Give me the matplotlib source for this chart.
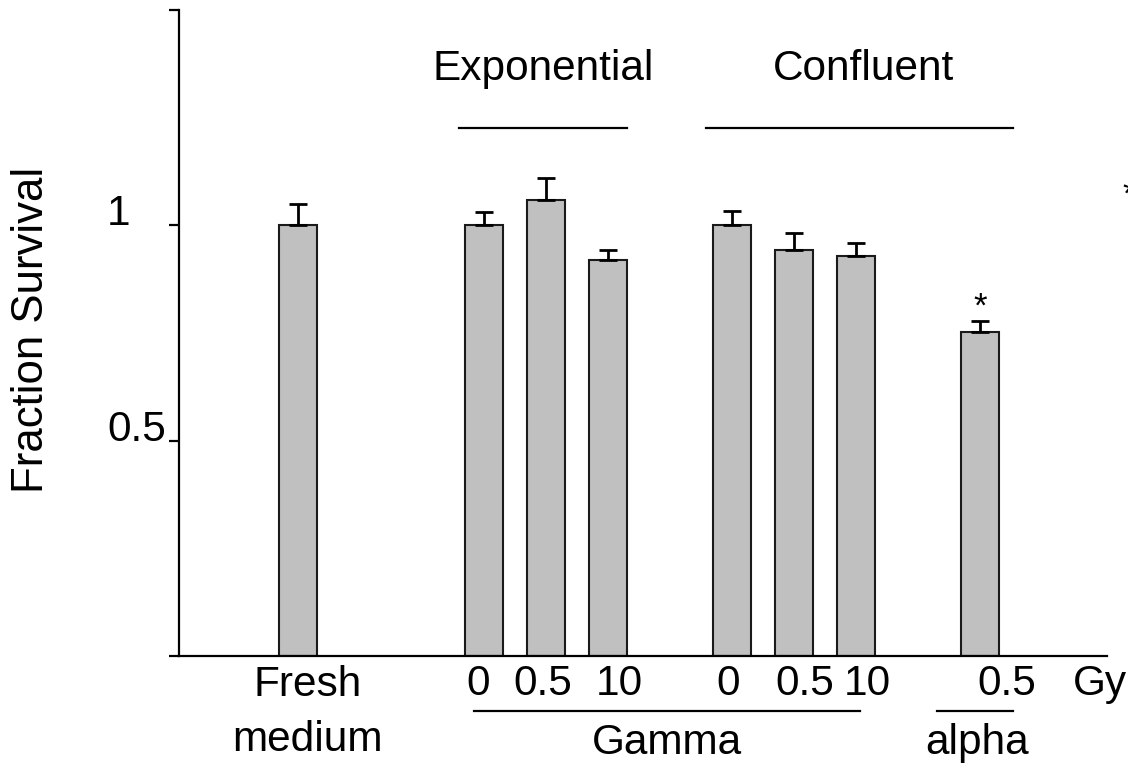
import matplotlib
matplotlib.use("Agg")
import matplotlib.pyplot as plt

plt.rcParams['font.family'] = ['Liberation Sans', 'DejaVu Sans']

# Data
positions = [-3, 0, 1, 2, 4, 5, 6, 8]
values = [1.00, 1.00, 1.058, 0.920, 1.00, 0.943, 0.929, 0.753]
errors = [0.049, 0.032, 0.052, 0.023, 0.033, 0.040, 0.029, 0.024]
dose_labels = ['0', '0.5', '10', '0', '0.5', '10', '0.5']
dose_label_x = [-0.1, 0.95, 2.19, 3.94, 5.18, 6.19, 8.44]
ytick_vals = [0, 0.5, 1, 1.5]
ytick_labels = ['', '0.5', '1', '']

FS = 30.5
fig = plt.figure(figsize=(11.28, 7.66), dpi=100)
ax = fig.add_axes([179/1128, 1-656/766, (1107-179)/1128, (656-10)/766])

ax.bar(positions, values, width=0.6, color='#c0c0c0', edgecolor='#1a1a1a',
       linewidth=1.5, zorder=2)
ax.errorbar(positions, values, yerr=[[0]*len(errors), errors], fmt='none',
            ecolor='black', elinewidth=2.0, capsize=6.8, capthick=2.0, zorder=3)

ax.set_xlim(-4.92, 10.05)
ax.set_ylim(0, 1.5)
for s in ['top', 'right']:
    ax.spines[s].set_visible(False)
for s in ['left', 'bottom']:
    ax.spines[s].set_linewidth(1.6)
ax.set_xticks([])
ax.set_yticks(ytick_vals)
ax.set_yticklabels(ytick_labels, fontsize=FS)
ax.tick_params(axis='y', length=7.2, width=1.6, pad=44.5)
for lab in ax.get_yticklabels():
    lab.set_horizontalalignment('left')
    lab.set_verticalalignment('baseline')

# significance stars
ax.text(positions[-1], values[-1] + errors[-1] + 0.034, '*', ha='center',
        va='center', fontsize=25)
ax.text(10.40, 1.07, '*', ha='center', va='center', fontsize=25, clip_on=False)

# group headers
line_kw = dict(color='black', lw=1.6, clip_on=False)
ax.plot([-0.4, 2.31], [1.225, 1.225], **line_kw)
ax.text(0.95, 1.363, 'Exponential', ha='center', va='center', fontsize=FS)
ax.plot([3.58, 8.53], [1.225, 1.225], **line_kw)
ax.text(6.12, 1.363, 'Confluent', ha='center', va='center', fontsize=FS)

# bottom labels
for x, t in zip(dose_label_x, dose_labels):
    ax.text(x, -0.065, t, ha='center', va='center', fontsize=FS, clip_on=False)
ax.text(9.94, -0.065, 'Gy', ha='center', va='center', fontsize=FS, clip_on=False)
ax.text(-2.84, -0.068, 'Fresh', ha='center', va='center', fontsize=FS, clip_on=False)
ax.text(-2.84, -0.194, 'medium', ha='center', va='center', fontsize=FS, clip_on=False)

ax.plot([-0.16, 6.06], [-0.127, -0.127], **line_kw)
ax.text(2.95, -0.201, 'Gamma', ha='center', va='center', fontsize=FS, clip_on=False)
ax.plot([7.31, 8.53], [-0.127, -0.127], **line_kw)
ax.text(7.95, -0.201, 'alpha', ha='center', va='center', fontsize=FS, clip_on=False)

fig.text(32/1128, 1-330/766, 'Fraction Survival', rotation=90, ha='center',
         va='center', fontsize=FS + 1)

fig.savefig('out.png', dpi=100)
